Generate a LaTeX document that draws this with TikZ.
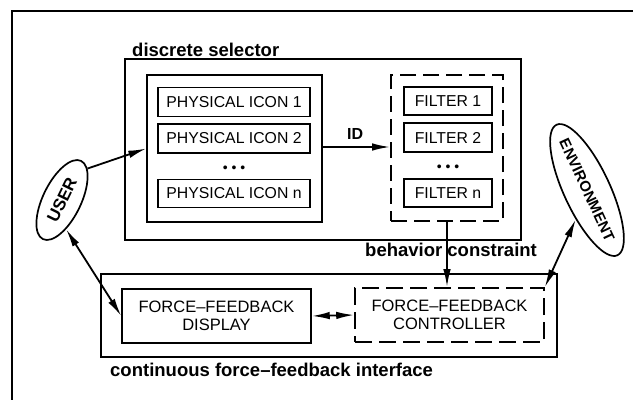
\documentclass[tikz,border=0pt]{standalone}
\usepackage{fontspec}
\setmainfont{Liberation Sans}
\usetikzlibrary{arrows.meta,shapes.geometric}
\begin{document}
\begin{tikzpicture}[x=1pt,y=-1pt,
  frame/.style={line width=1.3pt},
  bigbox/.style={draw, line width=2pt, inner sep=0pt},
  box/.style={draw, line width=1.5pt, inner sep=0pt},
  dbox/.style={draw, line width=1.6pt, inner sep=0pt, dash pattern=on 17pt off 7pt},
  capt/.style={font=\fontsize{15.8}{18}\selectfont},
  ffcapt/.style={font=\fontsize{16.5}{18}\selectfont, align=center},
  lab/.style={font=\bfseries\fontsize{18.5}{20}\selectfont, anchor=base west, inner sep=0pt},
  dots/.style={font=\fontsize{14}{14}\selectfont, inner sep=0pt},
  conn/.style={line width=1.8pt},
  onetip/.style={conn, -{Latex[length=18pt,width=7.5pt]}},
  twotip/.style={conn, {Latex[length=18pt,width=7.5pt]}-{Latex[length=18pt,width=7.5pt]}},
  oval/.style={draw, ellipse, line width=1.7pt, inner sep=0pt}]
\useasboundingbox (0,0) rectangle (633,400);
% outer frame (cropped)
\draw[frame] (633,11) -- (12,11) -- (12,400);

% discrete selector
\node[bigbox, minimum width=396pt, minimum height=181pt] (sel) at (323,149.5) {};
\node[lab] (sellab) at (132,56.5) {discrete selector};
\node[box, minimum width=175pt, minimum height=147pt] (iconbox) at (234.5,148.5) {};
\node[box, capt, minimum width=152pt, minimum height=29pt] (icon1) at (234,102) {PHYSICAL ICON 1};
\node[box, capt, minimum width=152pt, minimum height=29pt] (icon2) at (234,138.5) {PHYSICAL ICON 2};
\node[dots] (idots) at (234,169) {• • •};
\node[box, capt, minimum width=152pt, minimum height=28pt] (iconn) at (234,193.5) {PHYSICAL ICON n};

\node[dbox, minimum width=112pt, minimum height=146pt, dash pattern=on 16pt off 7pt] (filtbox) at (447,148) {};
\node[box, capt, minimum width=88pt, minimum height=28pt] (filt1) at (448,101) {FILTER 1};
\node[box, capt, minimum width=88pt, minimum height=29pt] (filt2) at (448,137.5) {FILTER 2};
\node[dots] (fdots) at (448,168) {• • •};
\node[box, capt, minimum width=88pt, minimum height=28pt] (filtn) at (448,193) {FILTER n};

% continuous interface
\node[bigbox, minimum width=456pt, minimum height=83pt] (cont) at (329,315.5) {};
\node[lab] (contlab) at (110,376) {continuous force--feedback interface};
\node[box, ffcapt, minimum width=189pt, minimum height=54pt] (disp) at (216.5,316) {FORCE--FEEDBACK\\DISPLAY};
\node[dbox, ffcapt, minimum width=189pt, minimum height=54pt] (ctrl) at (449.5,315) {FORCE--FEEDBACK\\CONTROLLER};
\node[lab] (behlab) at (365,256.5) {behavior constraint};

% ellipses
\node[oval, minimum width=87pt, minimum height=38pt, rotate=64] (user) at (62,200) {};
\node[rotate=64, font=\bfseries\fontsize{17}{17}\selectfont, inner sep=0pt] (usertxt) at (user.center) {USER};
\node[oval, minimum width=144pt, minimum height=46pt, rotate=-65] (env) at (587,190) {};
\node[rotate=-65, font=\bfseries\fontsize{15}{15}\selectfont, inner sep=0pt] (envtxt) at (env.center) {ENVIRONMENT};

% connectors
\draw[onetip] (iconbox.east |- 0,147) -- (filtbox.west |- 0,147);
\node[font=\bfseries\fontsize{16}{16}\selectfont, anchor=base west, inner sep=0pt] (idlab) at (347,139) {ID};
\draw[onetip] (user.-13) -- (iconbox.west);
\draw[twotip] (user.214) -- (disp.west);
\draw[twotip] (disp.east) -- (ctrl.west);
\draw[onetip] (filtbox.south) -- (filtbox.south |- ctrl.north);
\draw[twotip] (ctrl.north east) -- (env.-46);
\end{tikzpicture}
\end{document}
